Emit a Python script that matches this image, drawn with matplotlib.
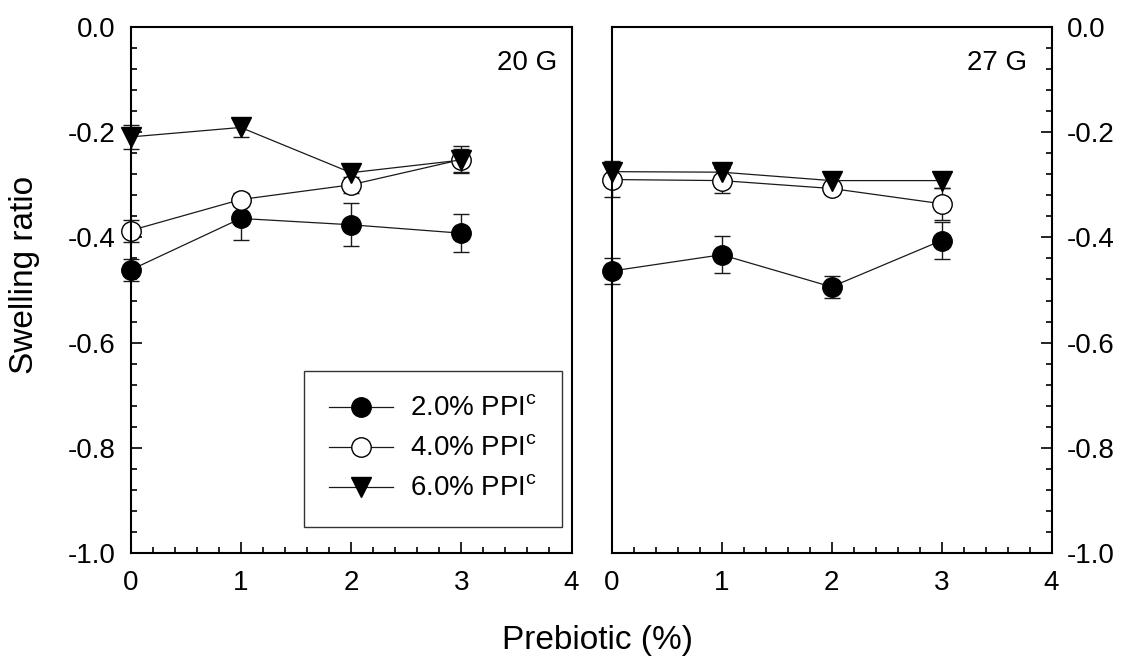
import matplotlib
matplotlib.use("Agg")
import matplotlib.pyplot as plt
from matplotlib.ticker import MultipleLocator

plt.rcParams['font.family'] = ['Liberation Sans', 'DejaVu Sans']
plt.rcParams['mathtext.fontset'] = 'custom'
plt.rcParams['mathtext.rm'] = 'Liberation Sans'
plt.rcParams['axes.unicode_minus'] = False

# prebiotic level (%)
prebiotic = [0, 1, 2, 3]

# 20 G panel
ppi2_20 = [-0.462, -0.364, -0.376, -0.392]
ppi2_20_err = [0.020, 0.040, 0.041, 0.036]
ppi4_20 = [-0.387, -0.328, -0.300, -0.252]
ppi4_20_err = [0.021, 0.012, 0.015, 0.025]
ppi6_20 = [-0.209, -0.191, -0.277, -0.253]
ppi6_20_err = [0.023, 0.018, 0.015, 0.022]

# 27 G panel
ppi2_27 = [-0.464, -0.433, -0.494, -0.406]
ppi2_27_err = [0.024, 0.035, 0.021, 0.035]
ppi4_27 = [-0.290, -0.292, -0.307, -0.336]
ppi4_27_err = [0.033, 0.024, 0.010, 0.030]
ppi6_27 = [-0.275, -0.276, -0.292, -0.292]
ppi6_27_err = [0.020, 0.010, 0.014, 0.014]

labels = ['2.0% PPI$^{\\mathrm{c}}$', '4.0% PPI$^{\\mathrm{c}}$', '6.0% PPI$^{\\mathrm{c}}$']
yticks = [0.0, -0.2, -0.4, -0.6, -0.8, -1.0]
xticks = [0, 1, 2, 3, 4]

fig = plt.figure(figsize=(11.25, 6.62), dpi=100)
ax1 = fig.add_axes([130.5 / 1125, 109 / 662, 441 / 1125, 526 / 662])
ax2 = fig.add_axes([611.5 / 1125, 109 / 662, 440 / 1125, 526 / 662])

styles = [
    dict(marker='o', mfc='black', mec='black'),
    dict(marker='o', mfc='white', mec='black'),
    dict(marker='v', mfc='black', mec='black'),
]

def draw(ax, series, errs):
    lines = []
    for vals, err, st, lab in zip(series, errs, styles, labels):
        cont = ax.errorbar(prebiotic, vals, yerr=err, color='#1a1a1a', lw=0.9,
                           marker=st['marker'], ms=14, mfc=st['mfc'], mec=st['mec'], mew=1.0,
                           ecolor='#1a1a1a', elinewidth=1.0, capsize=6, capthick=1.0,
                           label=lab, clip_on=False)
        for art in cont.get_children():
            art.set_clip_on(False)
        lines.append(cont[0])
    ax.set_xlim(0, 4)
    ax.set_ylim(-1.0, 0.0)
    ax.set_xticks(xticks)
    ax.xaxis.set_minor_locator(MultipleLocator(0.2))
    ax.set_yticks(yticks)
    ax.set_yticklabels(['%.1f' % v for v in yticks])
    ax.yaxis.set_minor_locator(MultipleLocator(0.04))
    for s in ax.spines.values():
        s.set_linewidth(1.5)
    ax.tick_params(which='both', direction='in', width=1.2, labelsize=20)
    ax.tick_params(which='major', length=8)
    ax.tick_params(which='minor', length=4.5)
    ax.tick_params(axis='x', pad=12)
    ax.tick_params(axis='y', pad=11)
    return lines

lines20 = draw(ax1, [ppi2_20, ppi4_20, ppi6_20], [ppi2_20_err, ppi4_20_err, ppi6_20_err])
draw(ax2, [ppi2_27, ppi4_27, ppi6_27], [ppi2_27_err, ppi4_27_err, ppi6_27_err])

ax1.tick_params(axis='y', which='both', left=True, right=False)
ax2.tick_params(axis='y', which='both', left=False, right=True, labelleft=False, labelright=True)

ax1.text(0.967, 0.932, '20 G', transform=ax1.transAxes, ha='right', va='center', fontsize=20)
ax2.text(0.944, 0.932, '27 G', transform=ax2.transAxes, ha='right', va='center', fontsize=20)

leg = ax1.legend(lines20, labels, loc='lower right', bbox_to_anchor=(0.978, 0.049), fontsize=20,
                 frameon=True, fancybox=False, handlelength=2.3, handletextpad=0.6,
                 labelspacing=0.5, borderpad=0.9, borderaxespad=0)
leg.get_frame().set_edgecolor('black')
leg.get_frame().set_linewidth(1.0)

fig.text(25 / 1125, 1 - 275 / 662, 'Swelling ratio', rotation=90, ha='center', va='center', fontsize=24)
fig.text(598 / 1125, 1 - 640 / 662, 'Prebiotic (%)', ha='center', va='center', fontsize=24)

fig.savefig('out.png', dpi=100)
